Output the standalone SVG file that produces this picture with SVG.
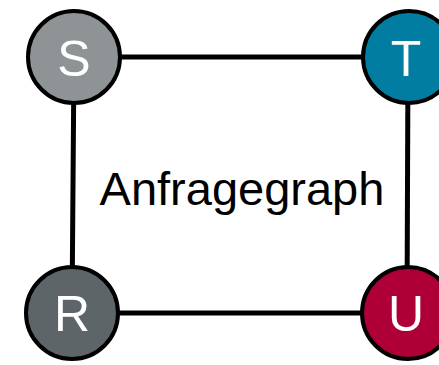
<svg xmlns="http://www.w3.org/2000/svg" width="439" height="365" viewBox="0 0 439 365">
  <style>
    .edge { stroke: #000; stroke-width: 5; fill: none; }
    .node circle { stroke: #000; stroke-width: 4; }
    .node text { fill: #fff; font-family: "Liberation Sans", Arial, sans-serif; font-size: 50px; text-anchor: middle; }
    .title { fill: #000; font-family: "Liberation Sans", Arial, sans-serif; font-size: 47px; text-anchor: middle; }
  </style>
  <rect width="439" height="365" fill="#fff"/>
  <g id="connectors">
    <line class="edge" x1="74" y1="57" x2="408" y2="57"/>
    <line class="edge" x1="74" y1="57" x2="72" y2="313"/>
    <line class="edge" x1="408" y1="57" x2="407" y2="313"/>
    <line class="edge" x1="72" y1="313" x2="407" y2="313"/>
  </g>
  <text class="title" x="242" y="205">Anfragegraph</text>
  <g id="node-S" class="node">
    <circle cx="74" cy="57" r="46" fill="#8e9496"/>
    <text x="74" y="76">S</text>
  </g>
  <g id="node-T" class="node">
    <circle cx="409" cy="57" r="46" fill="#007da1"/>
    <text x="406" y="76">T</text>
  </g>
  <g id="node-R" class="node">
    <circle cx="72" cy="313" r="46" fill="#5d6569"/>
    <text x="72" y="331">R</text>
  </g>
  <g id="node-U" class="node">
    <circle cx="408" cy="313" r="46" fill="#ae0036"/>
    <text x="406" y="331">U</text>
  </g>
</svg>
